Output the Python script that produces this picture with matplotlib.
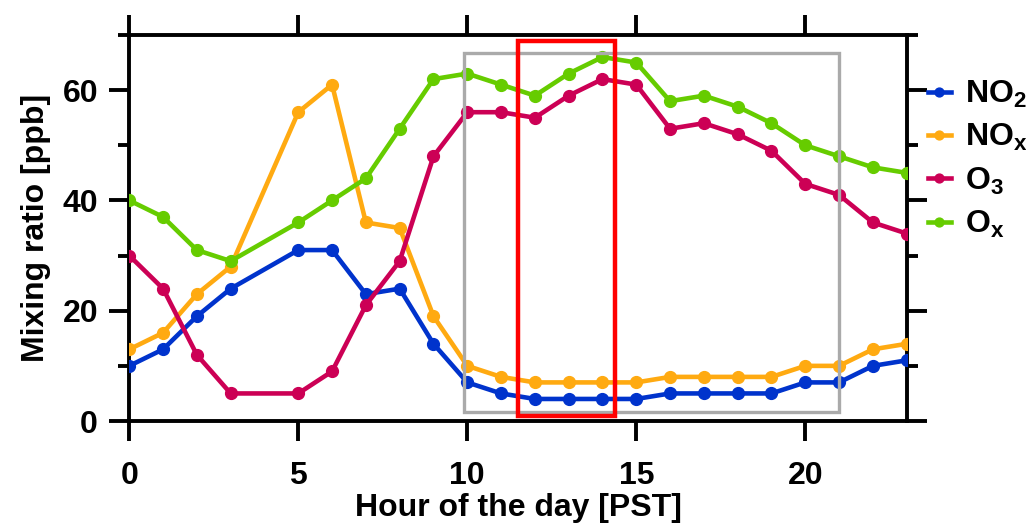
import numpy as np
import matplotlib
matplotlib.use("Agg")
import matplotlib.pyplot as plt
from matplotlib.patches import Rectangle
from matplotlib.ticker import MultipleLocator

# hourly means (hour 4 missing)
hours = [0, 1, 2, 3, 5, 6, 7, 8, 9, 10, 11, 12, 13, 14, 15, 16, 17, 18, 19, 20, 21, 22, 23]
no2 = [10, 13, 19, 24, 31, 31, 23, 24, 14, 7, 5, 4, 4, 4, 4, 5, 5, 5, 5, 7, 7, 10, 11]
nox = [13, 16, 23, 28, 56, 61, 36, 35, 19, 10, 8, 7, 7, 7, 7, 8, 8, 8, 8, 10, 10, 13, 14]
o3 = [30, 24, 12, 5, 5, 9, 21, 29, 48, 56, 56, 55, 59, 62, 61, 53, 54, 52, 49, 43, 41, 36, 34]
ox = [40, 37, 31, 29, 36, 40, 44, 53, 62, 63, 61, 59, 63, 66, 65, 58, 59, 57, 54, 50, 48, 46, 45]

series_labels = ['NO$_2$', 'NO$_x$', 'O$_3$', 'O$_x$']
series_colors = ['#0033cc', '#ffaa11', '#cc0055', '#66cc00']

plt.rcParams['font.family'] = 'Liberation Sans'
plt.rcParams['font.weight'] = 'bold'
plt.rcParams['mathtext.fontset'] = 'custom'
plt.rcParams['mathtext.rm'] = 'Liberation Sans:bold'
plt.rcParams['mathtext.it'] = 'Liberation Sans:bold'
plt.rcParams['mathtext.bf'] = 'Liberation Sans:bold'

fig = plt.figure(figsize=(10.26, 5.27), dpi=100)
ax = fig.add_axes([0.126, 0.2011, 0.7577, 0.7325])

for vals, lab, col in zip([no2, nox, o3, ox], series_labels, series_colors):
    ax.plot(hours, vals, color=col, lw=3.3, marker='o', ms=8.5, label=lab, zorder=3)

# highlight boxes
ax.add_patch(Rectangle((9.9, 1.6), 21.0 - 9.9, 66.7 - 1.6, fill=False,
                       edgecolor='#aaaaaa', lw=2.4, zorder=4))
ax.add_patch(Rectangle((11.5, 0.9), 14.38 - 11.5, 69.0 - 0.9, fill=False,
                       edgecolor='#ff0000', lw=3.2, zorder=5))

ax.set_xlim(0, 23)
ax.set_ylim(0, 70)
ax.xaxis.set_major_locator(MultipleLocator(5))
ax.yaxis.set_major_locator(MultipleLocator(20))
ax.yaxis.set_minor_locator(MultipleLocator(10))

for s in ax.spines.values():
    s.set_linewidth(2.8)

ax.tick_params(axis='both', which='major', direction='out', width=2.8, length=14.5,
               labelsize=23, top=True, right=True)
ax.tick_params(axis='y', which='minor', direction='out', width=2.8, length=8,
               left=True, right=True)
ax.tick_params(axis='x', which='major', pad=14)
ax.tick_params(axis='y', which='major', pad=8)

ax.set_xlabel('Hour of the day [PST]', fontsize=23, fontweight='bold', labelpad=2)
ax.set_ylabel('Mixing ratio [ppb]', fontsize=23, fontweight='bold', labelpad=8)

leg = fig.legend(loc='upper left', bbox_to_anchor=(0.904, 0.85), frameon=False,
                 fontsize=23, handlelength=0.72, handletextpad=0.45, labelspacing=0.38,
                 borderpad=0, borderaxespad=0, markerscale=0.75)

fig.savefig('out.png', dpi=100)
